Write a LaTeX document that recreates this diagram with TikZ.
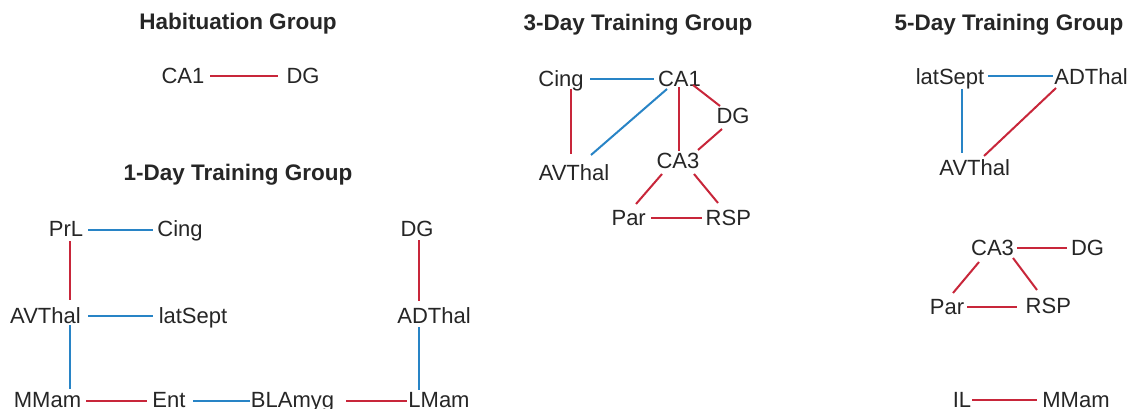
\documentclass[tikz,border=0pt]{standalone}
\usepackage{fontspec}
\setmainfont{Liberation Sans}
\definecolor{ered}{RGB}{200,38,58}
\definecolor{eblue}{RGB}{40,132,198}
\tikzset{
  lbl/.style={font=\fontsize{22}{26}\selectfont, text=black!85, inner sep=0pt, text height=15.5pt, text depth=0pt},
  ttl/.style={font=\fontsize{22.5}{27}\selectfont\bfseries, text=black!85, inner sep=0pt, text height=15.5pt, text depth=0pt},
  rl/.style={draw=ered, line width=2pt},
  bl/.style={draw=eblue, line width=2pt},
}
\newcommand{\pt}[3]{([shift={(#2,#3)}]#1.center)}
\begin{document}
\begin{tikzpicture}[x=1pt,y=-1pt]
\useasboundingbox[fill=white] (0,0) rectangle (1134,409);
% titles
\node[ttl] (tH) at (238,22) {Habituation Group};
\node[ttl] (t1) at (238,173) {1-Day Training Group};
\node[ttl] (t3) at (638,23) {3-Day Training Group};
\node[ttl] (t5) at (1009,23) {5-Day Training Group};
% Habituation
\node[lbl] (hCA1) at (183,76) {CA1};
\node[lbl] (hDG) at (303,76) {DG};
\draw[rl] \pt{hCA1}{27}{0} -- \pt{hDG}{-25}{0};
% 1-Day
\node[lbl] (aPrL) at (66,229) {PrL};
\node[lbl] (aCing) at (180,229) {Cing};
\node[lbl] (aAVThal) at (45.5,316) {AVThal};
\node[lbl] (alatSept) at (193,316) {latSept};
\node[lbl] (aMMam) at (47.5,400) {MMam};
\node[lbl] (aEnt) at (169,400) {Ent};
\node[lbl] (aBLAmyg) at (292.5,400) {BLAmyg};
\node[lbl] (aLMam) at (439,400) {LMam};
\node[lbl] (aDG) at (417,229) {DG};
\node[lbl] (aADThal) at (434,316) {ADThal};
\draw[bl] \pt{aPrL}{22}{1} -- \pt{aCing}{-27}{1};
\draw[bl] \pt{aAVThal}{42.5}{0} -- \pt{alatSept}{-40}{0};
\draw[rl] \pt{aPrL}{4}{12} -- \pt{aAVThal}{24.5}{-16};
\draw[bl] \pt{aAVThal}{24.5}{9} -- \pt{aMMam}{22.5}{-11};
\draw[rl] \pt{aMMam}{38.5}{1} -- \pt{aEnt}{-22}{1};
\draw[bl] \pt{aEnt}{24}{1} -- \pt{aBLAmyg}{-42.5}{1};
\draw[rl] \pt{aBLAmyg}{53.5}{1} -- \pt{aLMam}{-32}{1};
\draw[rl] \pt{aDG}{2}{11} -- \pt{aADThal}{-15}{-15};
\draw[bl] \pt{aADThal}{-15}{11} -- \pt{aLMam}{-20}{-10};
% 3-Day
\node[lbl] (cCing) at (561,79) {Cing};
\node[lbl] (cCA1) at (679.5,79) {CA1};
\node[lbl] (cDG) at (733,116) {DG};
\node[lbl] (cCA3) at (678,161) {CA3};
\node[lbl] (cAVThal) at (574,172.5) {AVThal};
\node[lbl] (cPar) at (628.7,217.5) {Par};
\node[lbl] (cRSP) at (728.3,217.5) {RSP};
\draw[bl] \pt{cCing}{29}{0} -- \pt{cCA1}{-25.5}{0};
\draw[rl] \pt{cCing}{10}{10} -- \pt{cAVThal}{-3}{-18.5};
\draw[bl] \pt{cCA1}{-12.5}{10} -- \pt{cAVThal}{17}{-17.5};
\draw[rl] \pt{cCA1}{-0.5}{8} -- \pt{cCA3}{1}{-10};
\draw[rl] \pt{cCA1}{13.5}{6} -- \pt{cDG}{-13}{-10};
\draw[rl] \pt{cDG}{-11}{13} -- \pt{cCA3}{20}{-11};
\draw[rl] \pt{cCA3}{-16}{13} -- \pt{cPar}{7.3}{-13.5};
\draw[rl] \pt{cCA3}{16}{13} -- \pt{cRSP}{-10.3}{-14.5};
\draw[rl] \pt{cPar}{22.3}{0} -- \pt{cRSP}{-26.3}{0};
% 5-Day
\node[lbl] (elatSept) at (950,77) {latSept};
\node[lbl] (eADThal) at (1091,77) {ADThal};
\node[lbl] (eAVThal) at (974.7,168) {AVThal};
\node[lbl] (eCA3) at (992.5,248) {CA3};
\node[lbl] (eDG) at (1087.5,248) {DG};
\node[lbl] (ePar) at (947,307) {Par};
\node[lbl] (eRSP) at (1048.3,305.5) {RSP};
\node[lbl] (eIL) at (962,400) {IL};
\node[lbl] (eMMam) at (1076,400) {MMam};
\draw[bl] \pt{elatSept}{38}{-1} -- \pt{eADThal}{-38}{-1};
\draw[bl] \pt{elatSept}{12}{12} -- \pt{eAVThal}{-12.7}{-15};
\draw[rl] \pt{eADThal}{-35}{11} -- \pt{eAVThal}{9.3}{-12};
\draw[rl] \pt{eCA3}{24.5}{0} -- \pt{eDG}{-20.5}{0};
\draw[rl] \pt{eCA3}{-13.5}{14} -- \pt{ePar}{6}{-14};
\draw[rl] \pt{eCA3}{20.5}{10} -- \pt{eRSP}{-11.3}{-15.5};
\draw[rl] \pt{ePar}{20}{0} -- \pt{eRSP}{-31.3}{1.5};
\draw[rl] \pt{eIL}{10}{0} -- \pt{eMMam}{-39}{0};
\end{tikzpicture}
\end{document}
